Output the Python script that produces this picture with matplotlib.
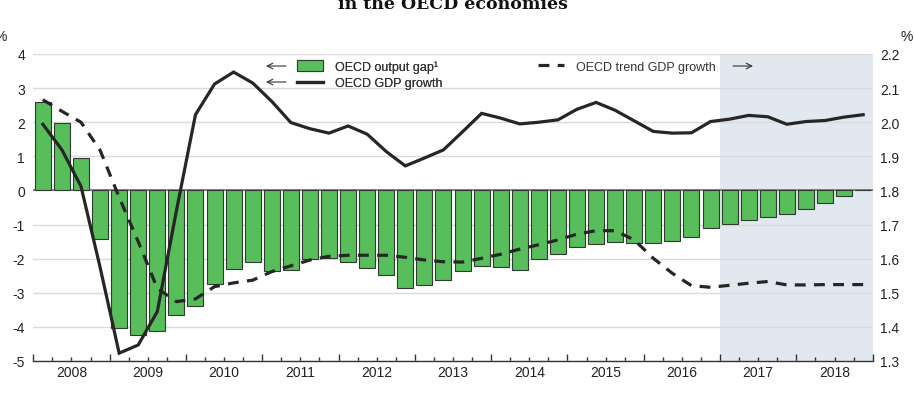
import numpy as np
import matplotlib
matplotlib.use("Agg")
import matplotlib.pyplot as plt
from matplotlib.patches import Patch
from matplotlib.lines import Line2D

# quarterly data 2008Q1 - 2018Q4
years = ['2008', '2009', '2010', '2011', '2012', '2013', '2014', '2015', '2016', '2017', '2018']

# output gap, % of potential GDP (left axis)
output_gap = [2.58, 1.97, 0.94, -1.42, -4.03, -4.23, -4.13, -3.64, -3.39, -2.74, -2.29, -2.10,
              -2.36, -2.32, -2.02, -1.97, -2.10, -2.27, -2.48, -2.86, -2.76, -2.62, -2.36, -2.22,
              -2.24, -2.32, -2.02, -1.86, -1.65, -1.58, -1.51, -1.55, -1.53, -1.47, -1.36, -1.09,
              -0.98, -0.86, -0.77, -0.68, -0.53, -0.36, -0.17, 0.0]

# GDP growth, % (left axis)
gdp_growth = [1.94, 1.19, 0.12, -2.25, -4.77, -4.53, -3.55, -0.60, 2.22, 3.12, 3.47, 3.15,
              2.61, 1.99, 1.81, 1.68, 1.89, 1.65, 1.14, 0.72, 0.95, 1.19, 1.72, 2.26,
              2.12, 1.95, 2.00, 2.07, 2.38, 2.58, 2.35, 2.04, 1.73, 1.68, 1.69, 2.02,
              2.09, 2.20, 2.16, 1.94, 2.02, 2.05, 2.15, 2.22]

# trend GDP growth, % (right axis)
trend_growth = [2.066, 2.032, 2.000, 1.918, 1.780, 1.650, 1.513, 1.474, 1.482, 1.518, 1.529, 1.537,
                1.562, 1.579, 1.596, 1.607, 1.610, 1.610, 1.610, 1.604, 1.596, 1.591, 1.590, 1.601,
                1.613, 1.628, 1.641, 1.655, 1.672, 1.682, 1.682, 1.655, 1.601, 1.557, 1.521, 1.516,
                1.522, 1.528, 1.533, 1.523, 1.523, 1.524, 1.524, 1.524]

projection_start = '2017'

green = '#58bd5b'
bar_edge = '#2f3a30'
line_col = '#262626'
shade = '#e2e8ef'
grid_col = '#dadada'

plt.rcParams['font.family'] = ['Liberation Sans', 'DejaVu Sans']
plt.rcParams['axes.unicode_minus'] = False

W, H = 914, 402
fig = plt.figure(figsize=(W / 100, H / 100), dpi=100)
ax = fig.add_axes([33.3 / W, 1 - 362 / H, (872.7 - 33.3) / W, (362 - 55) / H])

x = np.arange(len(output_gap))
n = len(x)

# projection shading
p0 = years.index(projection_start) * 4 - 0.5
ax.axvspan(p0, n - 0.5, color=shade, zorder=0, lw=0)

ax.set_ylim(-5, 4)
ax.set_xlim(-0.5, n - 0.5)
ax.set_yticks(range(-5, 5))
ax.yaxis.grid(True, color=grid_col, lw=1.0, zorder=1)
ax.set_axisbelow(True)
ax.axhline(0, color='#707070', lw=1.2, zorder=1.5)

ax.bar(x, output_gap, width=0.84, color=green, edgecolor=bar_edge, linewidth=0.8, zorder=2)
ax.plot(x, gdp_growth, color=line_col, lw=2.3, zorder=4, solid_joinstyle='miter')

ax2 = ax.twinx()
ax2.set_ylim(1.3, 2.2)
ax2.set_yticks(np.round(np.arange(1.3, 2.21, 0.1), 1))
ax2.set_yticklabels([f'{v:.1f}' for v in np.arange(1.3, 2.21, 0.1)])
ax2.plot(x, trend_growth, color=line_col, lw=2.3, dashes=(3.4, 2.6), zorder=4)

for a in (ax, ax2):
    for s in ['top', 'left', 'right']:
        a.spines[s].set_visible(False)
ax2.spines['bottom'].set_visible(False)
ax.spines['bottom'].set_color('#333333')
ax.spines['bottom'].set_linewidth(1.0)

ax.tick_params(axis='y', length=0, pad=6, labelsize=10, labelcolor='#222222')
ax2.tick_params(axis='y', length=0, pad=5.5, labelsize=10, labelcolor='#222222')

# year boundaries (major) and quarter boundaries (minor)
ax.set_xticks(np.arange(-0.5, n, 4))
ax.set_xticks(np.arange(-0.5, n, 1), minor=True)
ax.tick_params(axis='x', which='major', direction='in', length=5, width=1, color='#333333', labelbottom=False)
ax.tick_params(axis='x', which='minor', direction='in', length=2.6, width=1, color='#333333')

sec = ax.secondary_xaxis('bottom')
sec.set_xticks(np.arange(1.5, n, 4))
sec.set_xticklabels(years)
sec.tick_params(length=0, pad=3, labelsize=10, labelcolor='#222222')
sec.spines['bottom'].set_visible(False)

# legends
leg1 = fig.legend(handles=[Patch(facecolor=green, edgecolor=bar_edge, linewidth=0.8),
                           Line2D([], [], color=line_col, lw=2.3)],
                  labels=['OECD output gap\u00b9', 'OECD GDP growth'],
                  loc='upper left', bbox_to_anchor=(297 / W, 1 - 61 / H),
                  frameon=False, fontsize=9, handlelength=2.1, handleheight=1.0,
                  handletextpad=0.95, labelspacing=0.3, borderpad=0, borderaxespad=0,
                  labelcolor='#333333')
fig.legend(handles=[Line2D([], [], color=line_col, lw=2.3, dashes=(3.4, 2.6))],
           labels=['OECD trend GDP growth'],
           loc='upper left', bbox_to_anchor=(538 / W, 1 - 61 / H),
           frameon=False, fontsize=9, handlelength=2.1, handleheight=1.0,
           handletextpad=0.95, borderpad=0, borderaxespad=0, labelcolor='#333333')
fig.add_artist(leg1)

arrow = dict(arrowstyle='->', color='#333333', lw=0.8, shrinkA=0, shrinkB=0)
for yy in (67, 83):
    ax.annotate('', xy=(266, H - yy), xytext=(286, H - yy), xycoords='figure pixels',
                textcoords='figure pixels', arrowprops=arrow)
ax.annotate('', xy=(753, H - 67), xytext=(733, H - 67), xycoords='figure pixels',
            textcoords='figure pixels', arrowprops=arrow)

# unit labels
fig.text(1 / W, 1 - 37 / H, '%', ha='center', va='center', fontsize=10, color='#222222')
fig.text(907 / W, 1 - 37 / H, '%', ha='center', va='center', fontsize=10, color='#222222')

# title (second line, cut at the top edge)
fig.text(0.496, 1 - 9 / H, 'in the OECD economies', ha='center', va='baseline',
         fontsize=12.5, fontweight='bold', family='DejaVu Serif', color='#111111')

fig.savefig('out.png', dpi=100)
